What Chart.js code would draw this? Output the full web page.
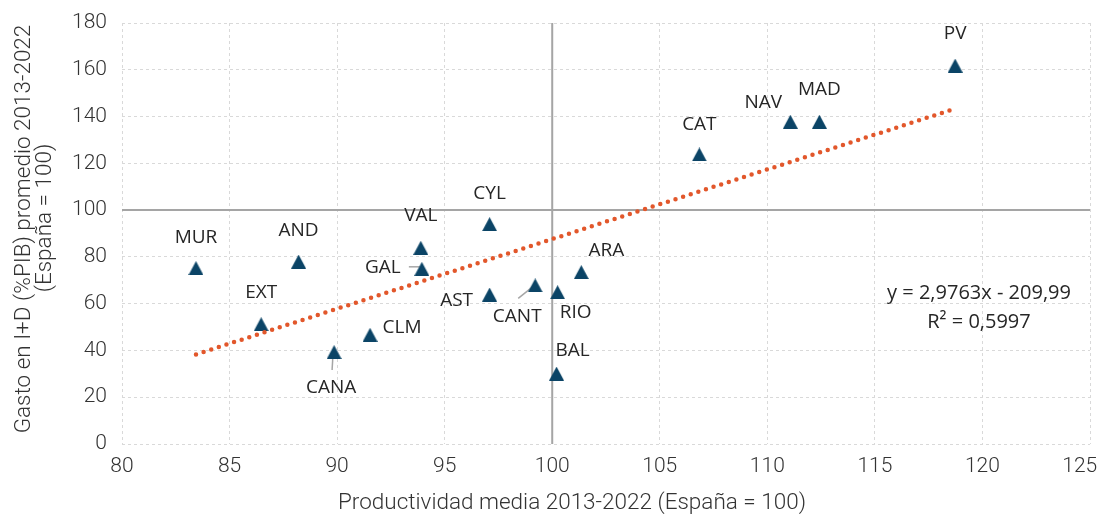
<!DOCTYPE html>
<html lang="es">
<head>
<meta charset="UTF-8">
<script src="https://cdn.jsdelivr.net/npm/chart.js@4.4.1/dist/chart.umd.min.js"></script>
<title>Productividad y gasto en I+D</title>
<style>
  html, body { margin: 0; padding: 0; background: #fff; }
</style>
</head>
<body>
<canvas id="grafico" width="1103" height="517"></canvas>
<script>
// datos
const regiones = ['MUR', 'EXT', 'AND', 'CANA', 'CLM', 'VAL', 'GAL', 'CYL', 'AST', 'CANT', 'BAL', 'RIO', 'ARA', 'CAT', 'NAV', 'MAD', 'PV'];
const productividad = [83.44, 86.47, 88.21, 89.86, 91.53, 93.89, 93.94, 97.09, 97.09, 99.21, 100.2, 100.25, 101.35, 106.84, 111.07, 112.42, 118.73];
const gastoID = [75.2, 51.2, 78.0, 39.3, 46.7, 83.9, 74.9, 94.0, 63.9, 67.8, 30.1, 64.9, 73.5, 123.8, 137.8, 137.8, 161.8];

// linea de tendencia (extremos)
const tendenciaX = [83.44, 118.5];
const tendenciaY = [38.3, 142.7];
const ecuacion = ['y = 2,9763x - 209,99', 'R² = 0,5997'];

const ticksX = [80, 85, 90, 95, 100, 105, 110, 115, 120, 125];
const ticksY = [0, 20, 40, 60, 80, 100, 120, 140, 160, 180];

const tituloX = 'Productividad media 2013-2022 (España = 100)';
const tituloY = ['Gasto en I+D (%PIB) promedio 2013-2022', '(España = 100)'];

// desplazamiento de etiquetas respecto al punto, en px
const offsets = {
  MUR: [0, -31], AND: [0, -31], EXT: [0, -32], VAL: [0, -32], CYL: [0, -31],
  CAT: [0, -30], NAV: [-27, -19], MAD: [0, -32], PV: [0, -32], ARA: [25, -21],
  RIO: [18, 20], BAL: [16, -23], CANT: [-18, 31], AST: [-33, 6], GAL: [-39, -1],
  CLM: [32, -7], CANA: [-3, 36]
};
// lineas guia (x1, y1, x2, y2 relativos al punto)
const guias = {
  GAL: [-13, -2, -2, -2],
  CANT: [-17, 13, -2, 1],
  CANA: [-2, 18, -1, 0]
};

const AZUL = '#0b4466';
const NARANJA = '#e2572b';
const TEXTO = '#333333';

function triangulo(w, h, color) {
  const c = document.createElement('canvas');
  c.width = w; c.height = h;
  const g = c.getContext('2d');
  g.fillStyle = color;
  g.beginPath();
  g.moveTo(w / 2, 0);
  g.lineTo(w, h);
  g.lineTo(0, h);
  g.closePath();
  g.fill();
  return c;
}

const puntos = productividad.map((v, i) => ({ x: v, y: gastoID[i] }));
const tendencia = tendenciaX.map((v, i) => ({ x: v, y: tendenciaY[i] }));

const extras = {
  id: 'extras',
  beforeDatasetsDraw(chart) {
    const { ctx, chartArea: a, scales: { x, y } } = chart;
    ctx.save();
    ctx.strokeStyle = '#a5a5a5';
    ctx.lineWidth = 2;
    const px = x.getPixelForValue(100);
    const py = y.getPixelForValue(100);
    ctx.beginPath();
    ctx.moveTo(px, a.top); ctx.lineTo(px, a.bottom);
    ctx.moveTo(a.left, py); ctx.lineTo(a.right, py);
    ctx.stroke();

    ctx.strokeStyle = '#a6a6a6';
    ctx.lineWidth = 1.5;
    regiones.forEach((r, i) => {
      const g = guias[r];
      if (!g) return;
      const cx = x.getPixelForValue(productividad[i]);
      const cy = y.getPixelForValue(gastoID[i]);
      ctx.beginPath();
      ctx.moveTo(cx + g[0], cy + g[1]);
      ctx.lineTo(cx + g[2], cy + g[3]);
      ctx.stroke();
    });
    ctx.restore();
  },
  afterDatasetsDraw(chart) {
    const { ctx, scales: { x, y } } = chart;
    ctx.save();
    ctx.fillStyle = '#262626';
    ctx.font = '19px "Open Sans"';
    ctx.textAlign = 'center';
    ctx.textBaseline = 'middle';
    regiones.forEach((r, i) => {
      const o = offsets[r] || [0, -30];
      const cx = x.getPixelForValue(productividad[i]);
      const cy = y.getPixelForValue(gastoID[i]);
      ctx.fillText(r, cx + o[0], cy + o[1]);
    });
    ctx.font = '20px "Open Sans"';
    ctx.fillText(ecuacion[0], 979, 293);
    ctx.fillText(ecuacion[1], 979, 322);
    ctx.restore();
  },
  afterDraw(chart) {
    const { ctx } = chart;
    ctx.save();
    ctx.fillStyle = TEXTO;
    ctx.font = '300 22.5px Roboto';
    ctx.textAlign = 'center';
    ctx.textBaseline = 'middle';
    ctx.fillText(tituloX, 572, 503);
    ctx.translate(24, 229);
    ctx.rotate(-Math.PI / 2);
    ctx.fillText(tituloY[0], 0, 0);
    ctx.fillText(tituloY[1], 11, 21);
    ctx.restore();
  }
};

Chart.defaults.font.family = 'Roboto';
Chart.defaults.color = TEXTO;

new Chart(document.getElementById('grafico'), {
  type: 'scatter',
  data: {
    datasets: [
      {
        type: 'line',
        data: tendencia,
        borderColor: NARANJA,
        borderWidth: 4.5,
        borderDash: [0, 8],
        borderCapStyle: 'round',
        pointRadius: 0,
        fill: false,
        order: 0
      },
      {
        data: puntos,
        pointStyle: triangulo(15, 14, AZUL),
        pointRadius: 8,
        order: 1
      }
    ]
  },
  options: {
    responsive: false,
    animation: false,
    layout: { padding: 0 },
    plugins: { legend: { display: false }, tooltip: { enabled: false } },
    scales: {
      x: {
        type: 'linear',
        min: 80, max: 125,
        afterBuildTicks: s => { s.ticks = ticksX.map(v => ({ value: v })); },
        afterFit: s => { s.height = 73; s.paddingRight = 13; s.paddingLeft = 0; },
        grid: { color: '#d9d9d9', lineWidth: 1, drawTicks: false },
        border: { display: false, dash: [3, 3] },
        ticks: {
          padding: 10,
          font: { size: 21, weight: '300' },
          color: TEXTO,
          // el ultimo rotulo va desplazado hacia dentro, como en el original
          callback: v => v === 125 ? '125\u00a0\u00a0\u00a0\u00a0' : v
        }
      },
      y: {
        min: 0, max: 180,
        afterBuildTicks: s => { s.ticks = ticksY.map(v => ({ value: v })); },
        afterFit: s => { s.width = 122; s.paddingTop = 23; s.paddingBottom = 0; },
        grid: { color: '#d9d9d9', lineWidth: 1, drawTicks: false },
        border: { display: false, dash: [3, 3] },
        ticks: { padding: 15, font: { size: 21, weight: '300' }, color: TEXTO }
      }
    }
  },
  plugins: [extras]
});
</script>
</body>
</html>
